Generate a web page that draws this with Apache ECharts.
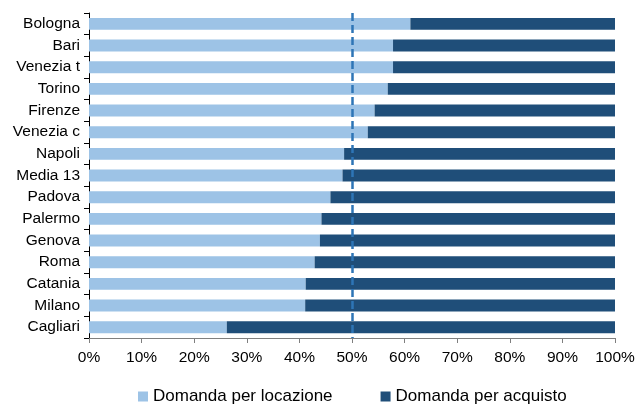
<!DOCTYPE html>
<html>
<head>
<meta charset="utf-8">
<script src="https://cdn.jsdelivr.net/npm/echarts@6/dist/echarts.min.js"></script>
<style>
html,body{margin:0;padding:0;background:#fff;}
#chart{width:642px;height:405px;}
</style>
</head>
<body>
<div id="chart"></div>
<script>
// Cities, top to bottom
const cities = ['Bologna','Bari','Venezia t','Torino','Firenze','Venezia c','Napoli','Media 13','Padova','Palermo','Genova','Roma','Catania','Milano','Cagliari'];
// Share of demand for renting (%)
const locazione = [61.1,57.8,57.8,56.8,54.3,53.0,48.5,48.2,45.9,44.2,43.9,42.9,41.2,41.1,26.2];
// Share of demand for buying (%)
const acquisto = [38.9,42.2,42.2,43.2,45.7,47.0,51.5,51.8,54.1,55.8,56.1,57.1,58.8,58.9,73.8];
const xTicks = [0,10,20,30,40,50,60,70,80,90,100];
const threshold = 50;

const font = "'Liberation Sans', sans-serif";
const chart = echarts.init(document.getElementById('chart'));
chart.setOption({
  animation: false,
  textStyle: {fontFamily: font},
  grid: {left: 89, right: 27, top: 13, bottom: 67},
  legend: {
    bottom: -5,
    left: 133,
    itemWidth: 10, itemHeight: 10, itemGap: 48,
    icon: 'rect',
    textStyle: {fontFamily: font, fontSize: 17, color: '#000'},
    data: ['Domanda per locazione','Domanda per acquisto']
  },
  xAxis: {
    type: 'value', min: 0, max: 100, interval: 10,
    splitLine: {show: false},
    axisLine: {show: true, lineStyle: {color: '#7f7f7f', width: 1}},
    axisTick: {show: true, length: 5, lineStyle: {color: '#7f7f7f'}},
    axisLabel: {fontFamily: font, fontSize: 15.5, color: '#000', margin: 12,
      formatter: v => xTicks.includes(v) ? v + '%' : ''}
  },
  yAxis: {
    type: 'category', data: cities, inverse: true,
    axisLine: {show: true, lineStyle: {color: '#000', width: 1}},
    axisTick: {show: true, length: 5, lineStyle: {color: '#000'}},
    axisLabel: {fontFamily: font, fontSize: 15.5, color: '#000', margin: 9}
  },
  series: [
    {
      name: 'Domanda per locazione', type: 'bar', stack: 'tot',
      data: locazione, barCategoryGap: '45%',
      itemStyle: {color: '#9dc3e6'},
      markLine: {
        silent: true, symbol: 'none',
        label: {show: false},
        lineStyle: {color: '#2e75b6', type: [8, 4], width: 2.5},
        data: [{xAxis: threshold}],
        z: 10
      }
    },
    {
      name: 'Domanda per acquisto', type: 'bar', stack: 'tot',
      data: acquisto, barCategoryGap: '45%',
      itemStyle: {color: '#1f4e79'}
    }
  ]
});
</script>
</body>
</html>
